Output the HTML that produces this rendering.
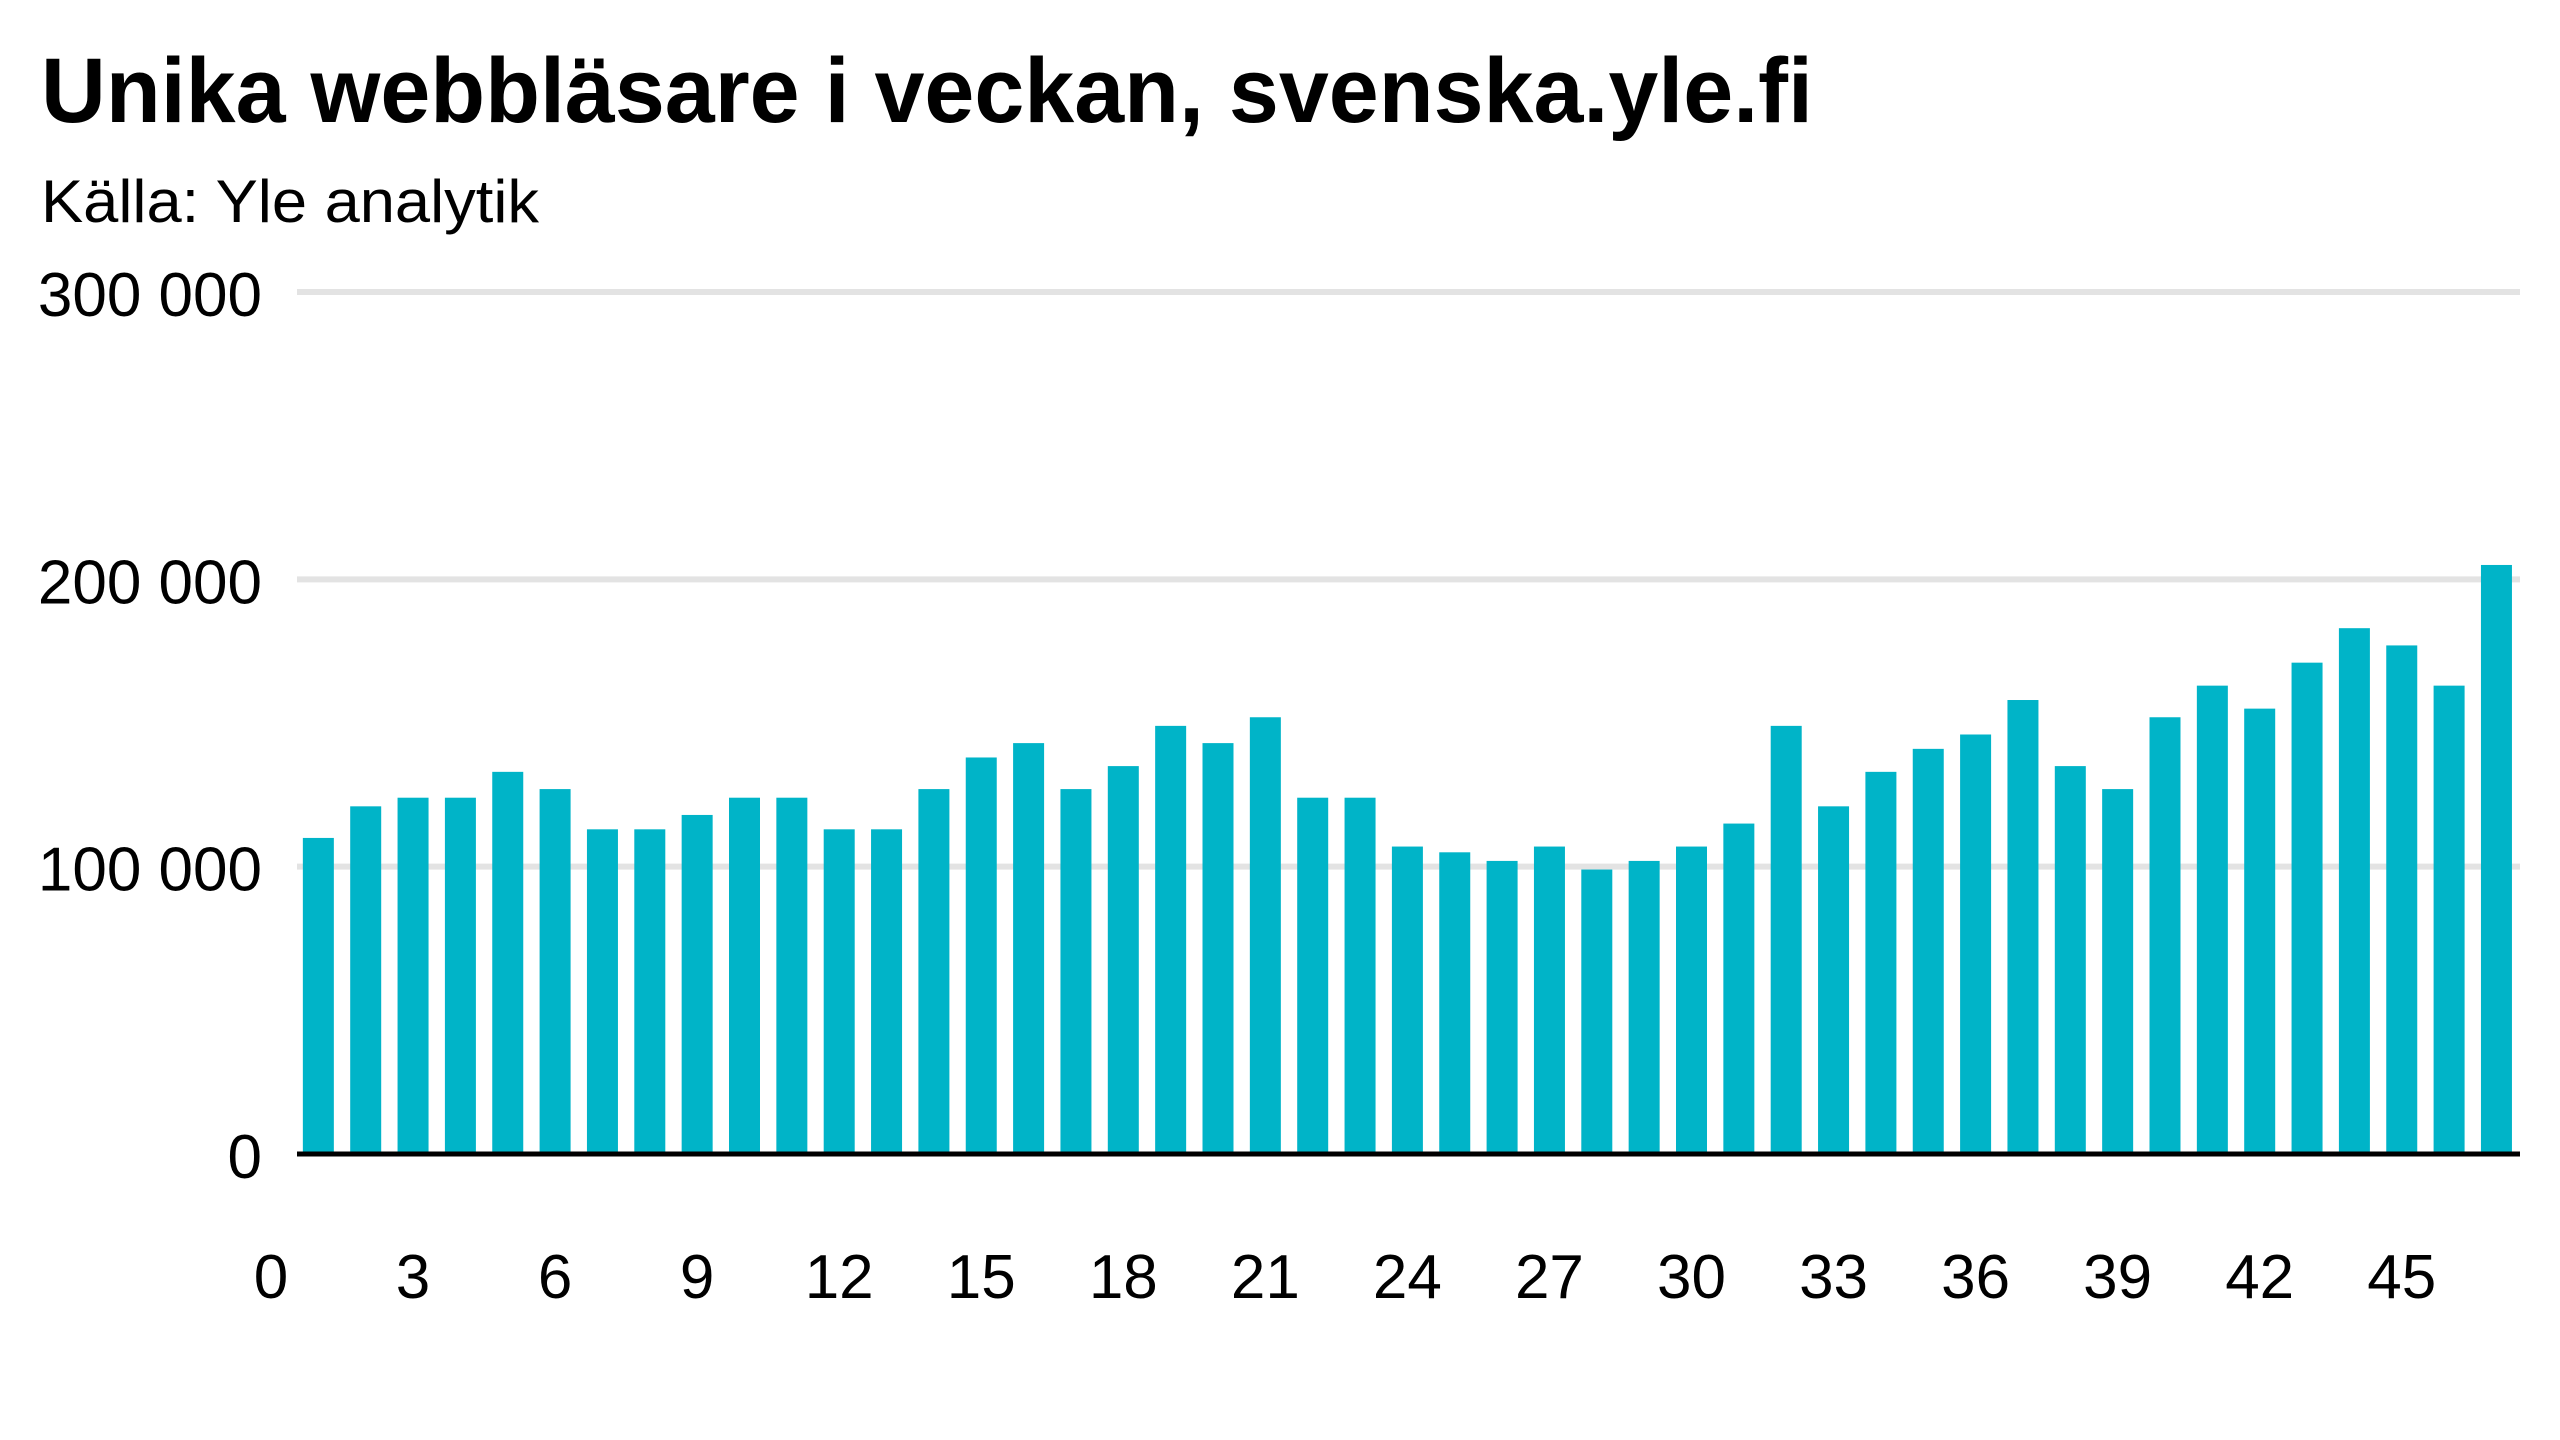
<!DOCTYPE html>
<html><head><meta charset="utf-8"><style>
html,body{margin:0;padding:0;background:#fff;}
svg{display:block;font-family:"Liberation Sans Narrow","Liberation Sans",sans-serif;}
</style></head><body>
<svg id="chart" width="2560" height="1440" viewBox="0 0 2560 1440" xmlns="http://www.w3.org/2000/svg">
<text x="41" y="122" font-size="92" font-weight="bold" textLength="1772" lengthAdjust="spacingAndGlyphs">Unika webbläsare i veckan, svenska.yle.fi</text>
<text x="41" y="222" font-size="60" textLength="498" lengthAdjust="spacingAndGlyphs">Källa: Yle analytik</text>
<g id="grid"></g><g id="bars"></g><g id="axes"></g>
</svg>
<script>
const weeks=[1,2,3,4,5,6,7,8,9,10,11,12,13,14,15,16,17,18,19,20,21,22,23,24,25,26,27,28,29,30,31,32,33,34,35,36,37,38,39,40,41,42,43,44,45,46,47];
const visitors=[110000,121000,124000,124000,133000,127000,113000,113000,118000,124000,124000,113000,113000,127000,138000,143000,127000,135000,149000,143000,152000,124000,124000,107000,105000,102000,107000,99000,102000,107000,115000,149000,121000,133000,141000,146000,158000,135000,127000,152000,163000,155000,171000,183000,177000,163000,205000];
const yTicks=[0,100000,200000,300000];
const yTickLabels=["0","100 000","200 000","300 000"];
const xTicks=[0,3,6,9,12,15,18,21,24,27,30,33,36,39,42,45];
const NS="http://www.w3.org/2000/svg";
const y=v=>1154-v*(1154-292)/300000;
const x=w=>271+w*47.35;
const grid=document.getElementById('grid'),bars=document.getElementById('bars'),axes=document.getElementById('axes');
function mk(tag,attrs,parent){const e=document.createElementNS(NS,tag);for(const k in attrs)e.setAttribute(k,attrs[k]);parent.appendChild(e);return e;}
yTicks.forEach((t,i)=>{
  if(t!==0){const l=mk('line',{x1:297,x2:2520,y1:y(t),y2:y(t),stroke:'#e3e3e3','stroke-width':6},grid);
  
  }
  const tx=mk('text',{x:262,y:y(t)+24,'font-size':62,'text-anchor':'end'},axes);
  
  
  tx.textContent=yTickLabels[i];
});
weeks.forEach((w,i)=>{
  const r=mk('rect',{x:x(w)-15.5,y:y(visitors[i]),width:31,height:y(0)-y(visitors[i]),fill:'#00b4c8'},bars);
  
  
});
const base=mk('line',{x1:297,x2:2520,y1:y(0),y2:y(0),stroke:'#000','stroke-width':5},axes);


xTicks.forEach(t=>{
  const tx=mk('text',{x:x(t),y:1298,'font-size':62,'text-anchor':'middle'},axes);
  
  
  tx.textContent=t;
});
</script>
</body></html>
